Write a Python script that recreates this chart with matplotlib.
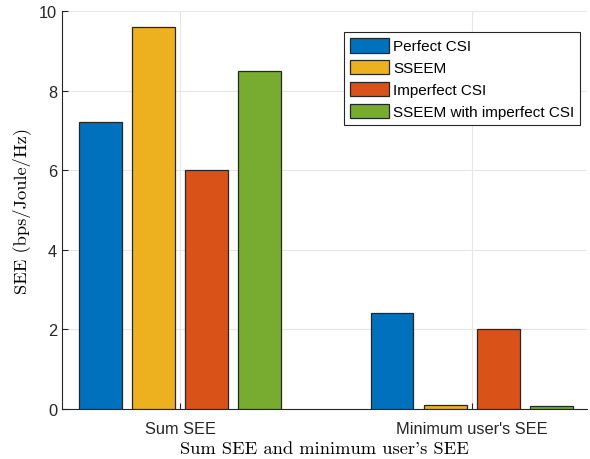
import numpy as np
import matplotlib
matplotlib.use("Agg")
import matplotlib.pyplot as plt

plt.rcParams['font.family'] = ['Liberation Sans', 'DejaVu Sans']

groups = ["Sum SEE", "Minimum user's SEE"]
series = ["Perfect CSI", "SSEEM", "Imperfect CSI", "SSEEM with imperfect CSI"]
values = [
    [7.2, 2.4],
    [9.6, 0.1],
    [6.0, 2.0],
    [8.5, 0.08],
]
colors = ["#0072BD", "#EDB120", "#D95319", "#77AC30"]

x = np.arange(1, len(groups) + 1)
offsets = [-0.273, -0.091, 0.091, 0.273]
width = 0.146

fig = plt.figure(figsize=(5.9, 4.6), dpi=100)
ax = fig.add_axes([0.105, 0.109, 0.89, 0.865])

for vals, off, c, name in zip(values, offsets, colors, series):
    ax.bar(x + off, vals, width, color=c, edgecolor='#262626', linewidth=0.9,
           label=name, zorder=3)

ax.set_xlim(0.595, 2.395)
ax.set_ylim(0, 10)
ax.set_yticks(np.arange(0, 11, 2))
ax.set_xticks(x)
ax.set_xticklabels(groups)
ax.tick_params(direction='in', labelsize=11.8, colors='#262626', length=4)
ax.tick_params(axis='x', pad=9)
ax.grid(True, color='#e6e6e6', linewidth=0.8, zorder=0)
ax.set_axisbelow(True)
for s in ['top', 'right']:
    ax.spines[s].set_visible(False)
for s in ['left', 'bottom']:
    ax.spines[s].set_color('#262626')
    ax.spines[s].set_linewidth(0.8)

ax.set_ylabel('SEE (bps/Joule/Hz)', fontfamily='cmr10', fontsize=13.3, labelpad=6)
ax.set_xlabel("Sum SEE and minimum user's SEE", fontfamily='cmr10', fontsize=13.3, labelpad=3)

leg = ax.legend(loc='upper right', bbox_to_anchor=(0.987, 0.947), fontsize=11,
                fancybox=False, framealpha=1, edgecolor='#262626',
                handlelength=2.6, handleheight=1.1, handletextpad=0.25,
                labelspacing=0.42, borderpad=0.38, borderaxespad=0)
leg.get_frame().set_linewidth(0.8)

fig.savefig("out.png", dpi=100)
